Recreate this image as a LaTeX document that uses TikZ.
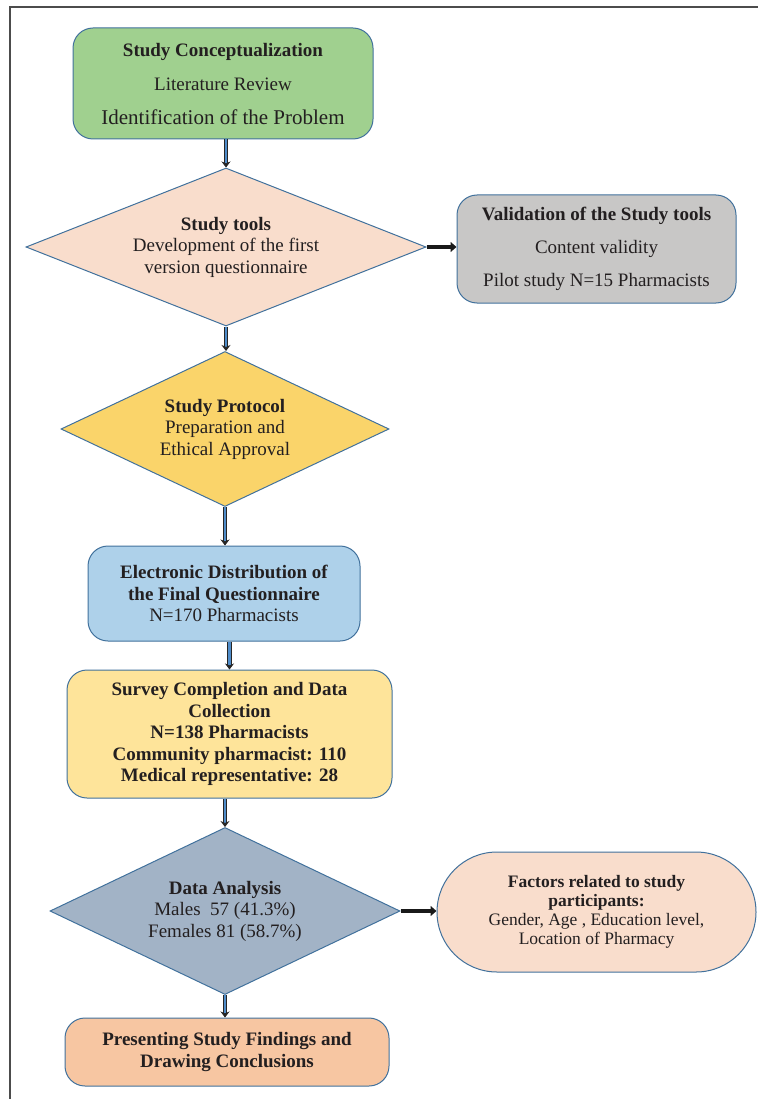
\documentclass[tikz,border=0pt]{standalone}
\usepackage{fontspec}
\setmainfont{Liberation Serif}
\usetikzlibrary{arrows.meta}
\usetikzlibrary{shapes.geometric}

\definecolor{edge}{HTML}{41719C}
\definecolor{ink}{HTML}{231F20}
\definecolor{conceptgreen}{HTML}{A0D08F}
\definecolor{toolpeach}{HTML}{F9DDCC}
\definecolor{validgrey}{HTML}{C8C7C6}
\definecolor{protocolgold}{HTML}{FAD46A}
\definecolor{distblue}{HTML}{AED1EA}
\definecolor{surveyyellow}{HTML}{FEE49A}
\definecolor{analysisslate}{HTML}{A2B3C6}
\definecolor{findsalmon}{HTML}{F7C6A2}
\definecolor{shaftblue}{HTML}{4F8CC9}

\tikzset{
  box/.style={rectangle, rounded corners=20pt, draw=edge, line width=1pt, align=center, text=ink, inner sep=0pt, font=\fontsize{19}{22}\selectfont},
  decision/.style={diamond, draw=edge, line width=1pt, inner sep=0pt},
  dtext/.style={align=center, text=ink, font=\fontsize{19}{21.5}\selectfont},
  flow/.style={draw=black!85, line width=0.9pt, double=shaftblue, double distance=2.4pt, -{Stealth[length=6pt,width=9pt,fill=black!85]}},
  side/.style={draw=black!90, line width=4.5pt, -{Triangle[length=6pt,width=10pt]}},
}

\begin{document}
\begin{tikzpicture}[x=1pt, y=-1pt]
      \useasboundingbox (0,0) rectangle (758,1099);
      \draw[gray!60!black, line width=1.3pt] (10,1099) -- (10,7) -- (758,7);

      \node[box, fill=conceptgreen, minimum width=300, minimum height=111, text depth=0pt] (concept) at (223,83.5) {\textbf{Study Conceptualization}\\[12pt] Literature Review\\[12pt] {\fontsize{21}{22}\selectfont Identification of the Problem}};
      \node[decision, fill=toolpeach, minimum width=400, minimum height=158, label={[dtext]center:{\textbf{Study tools}\\Development of the first\\version questionnaire}}] (tools) at (226,247) {};
      \node[box, fill=validgrey, minimum width=279, minimum height=108] (valid) at (596.5,249) {\textbf{Validation of the Study tools}\\[11pt] Content validity\\[11pt] Pilot study N=15 Pharmacists};
      \node[decision, fill=protocolgold, minimum width=328, minimum height=155, label={[dtext]center:{\textbf{Study Protocol}\\Preparation and\\Ethical Approval}}] (protocol) at (225,429) {};
      \node[box, fill=distblue, minimum width=272, minimum height=95, font=\fontsize{19}{21.5}\selectfont] (dist) at (224,593.5) {\textbf{Electronic Distribution of}\\\textbf{the Final Questionnaire}\\N=170 Pharmacists};
      \node[box, fill=surveyyellow, minimum width=325, minimum height=128, font=\fontsize{19}{21.5}\bfseries] (survey) at (229.5,734) {Survey Completion and Data\\Collection\\N=138 Pharmacists\\Community pharmacist: 110\\Medical representative: 28};
      \node[decision, fill=analysisslate, minimum width=350, minimum height=167, label={[dtext]center:{\textbf{Data Analysis}\\Males~ 57 (41.3\%)\\Females 81 (58.7\%)}}] (analysis) at (225,911) {};
      \node[box, fill=toolpeach, rounded corners=60pt, minimum width=319, minimum height=120, font=\fontsize{17.5}{19}\selectfont] (factors) at (596.5,912) {\textbf{Factors related to study}\\\textbf{participants:}\\Gender, Age , Education level,\\Location of Pharmacy};
      \node[box, fill=findsalmon, minimum width=324, minimum height=68, font=\fontsize{19}{22}\bfseries] (findings) at (227,1052) {Presenting Study Findings and\\Drawing Conclusions};

      \draw[flow] (concept.south -| tools.north) -- (tools.north);
      \draw[flow] (tools.south) -- (tools.south |- protocol.north);
      \draw[flow] (protocol.south) -- (protocol.south |- dist.north);
      \draw[flow] (dist.south -| survey.north) -- (survey.north);
      \draw[flow] (survey.south -| analysis.north) -- (analysis.north);
      \draw[flow] (analysis.south) -- (analysis.south |- findings.north);
      \draw[side] (tools.east) -- (tools.east -| valid.west);
      \draw[side] (analysis.east) -- (analysis.east -| factors.west);
    \end{tikzpicture}
\end{document}
